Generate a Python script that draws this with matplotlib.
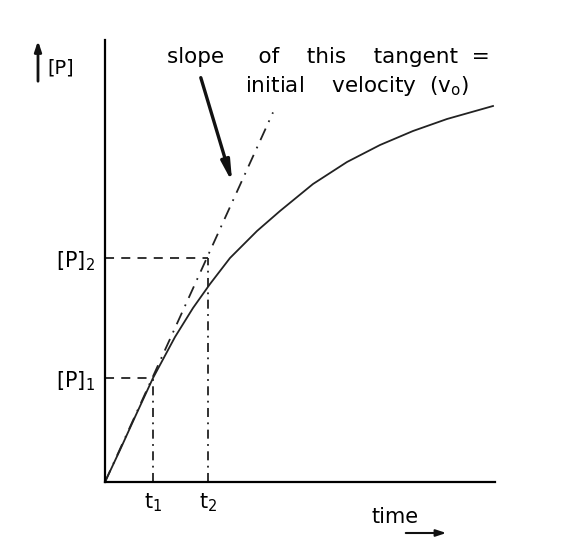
import matplotlib.pyplot as plt
import numpy as np

# product curve (time, [P]) in arbitrary units
time = [0, 15, 30, 48, 70, 88, 105, 125, 152, 175, 208, 242, 275, 308, 342, 388]
prod = [0, 32, 65, 104, 145, 174, 198, 224, 251, 271, 298, 320, 337, 351, 363, 376]

tangent_slope = 2.2
tangent_end = 168
t_marks = [48, 103]
p_marks = [104, 224]
t_labels = [r'$\mathregular{t_1}$', r'$\mathregular{t_2}$']
p_labels = [r'[P]$\mathregular{_1}$', r'[P]$\mathregular{_2}$']

plt.rcParams['font.family'] = 'DejaVu Sans'
fig = plt.figure(figsize=(5.65, 5.5), dpi=100)
ax = fig.add_axes([105/565, 68/550, 390/565, 442/550])
ax.set_xlim(0, 390)
ax.set_ylim(0, 442)
for s in ['top', 'right']:
    ax.spines[s].set_visible(False)
ax.spines['left'].set_linewidth(1.6)
ax.spines['bottom'].set_linewidth(1.6)

ax.plot(time, prod, color='#222222', lw=1.3, clip_on=False)

tx = np.array([0, tangent_end])
ax.plot(tx, tangent_slope*tx, color='#222222', lw=1.3, ls=(0, (7, 4, 1, 4)))

for t, p in zip(t_marks, p_marks):
    ax.plot([0, t], [p, p], color='#222222', lw=1.3, ls=(0, (5, 4)))
    ax.plot([t, t], [0, p], color='#222222', lw=1.3, ls=(0, (5, 3, 1, 3)))

ax.set_xticks(t_marks)
ax.set_xticklabels(t_labels, fontsize=15)
ax.set_yticks(p_marks)
ax.set_yticklabels(p_labels, fontsize=15)
ax.tick_params(length=0, pad=7)

ax.text(62, 419, 'slope     of    this    tangent  =', fontsize=15.5)
ax.text(140, 390, r'initial    velocity  ($\mathregular{v_o}$)', fontsize=15.5)
ax.annotate('', xy=(128, 297), xytext=(95, 407),
            arrowprops=dict(arrowstyle='-|>,head_length=1.2,head_width=0.25',
                            color='#111111', lw=2.4))

ax.annotate('', xy=(-67, 444), xytext=(-67, 398), annotation_clip=False,
            arrowprops=dict(arrowstyle='-|>,head_length=0.6,head_width=0.2',
                            color='#111111', lw=2))
ax.text(-58, 414, '[P]', fontsize=14, va='center')

ax.text(267, -35, 'time', fontsize=15, va='center')
ax.annotate('', xy=(344, -51), xytext=(298, -51), annotation_clip=False,
            arrowprops=dict(arrowstyle='-|>,head_length=0.6,head_width=0.2',
                            color='#111111', lw=1.5))

fig.savefig('out.png', dpi=100)
